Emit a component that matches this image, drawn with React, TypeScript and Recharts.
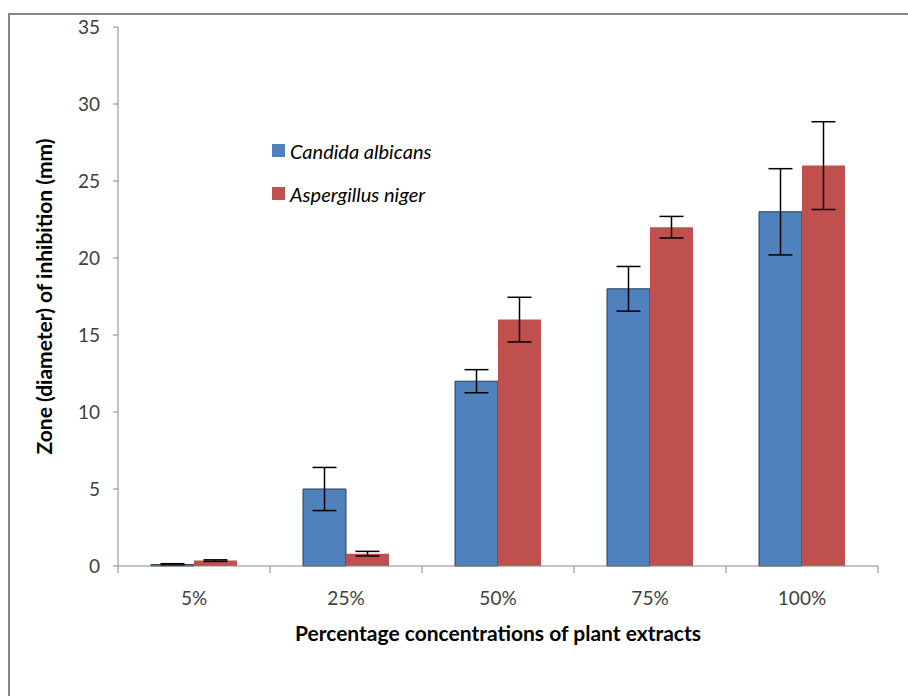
import React from 'react';
import {
  BarChart,
  Bar,
  XAxis,
  YAxis,
  ErrorBar,
} from 'recharts';

// --- data ---
const categories = ['5%', '25%', '50%', '75%', '100%'];
const candida = [0.1, 5, 12, 18, 23];
const candidaErr = [0.05, 1.4, 0.75, 1.45, 2.8];
const aspergillus = [0.35, 0.8, 16, 22, 26];
const aspergillusErr = [0.05, 0.15, 1.45, 0.7, 2.85];
const yTicks = [0, 5, 10, 15, 20, 25, 30, 35];
const seriesNames = ['Candida albicans', 'Aspergillus niger'];

const data = categories.map((c, i) => ({
  name: c,
  candida: candida[i],
  candidaErr: candidaErr[i],
  aspergillus: aspergillus[i],
  aspergillusErr: aspergillusErr[i],
}));

const FONT = 'Lato, "Open Sans", sans-serif';
const BLUE = '#4F81BD';
const RED = '#C0504D';
const AXIS = '#868686';

const W = 908;
const H = 696;
const xAxisHeight = 30;
const margin = { top: 27, right: 30, bottom: 130 - xAxisHeight, left: 58 };
const yAxisWidth = 60;
const band = (W - margin.left - yAxisWidth - margin.right) / categories.length;

// x tick: label at centre, tick marks at the category boundaries
const XTick = (props: any) => {
  const { x, y, payload, index } = props;
  const half = band / 2;
  return (
    <g>
      <line x1={x - half} y1={y} x2={x - half} y2={y + 7} stroke={AXIS} strokeWidth={1} />
      {index === categories.length - 1 && (
        <line x1={x + half} y1={y} x2={x + half} y2={y + 7} stroke={AXIS} strokeWidth={1} />
      )}
      <text x={x} y={y + 39} textAnchor="middle" fill="#404040" fontSize={19} fontFamily={FONT}>
        {payload.value}
      </text>
    </g>
  );
};

const LegendBox = () => (
  <div
    style={{
      position: 'absolute',
      left: 272,
      top: 129,
      fontFamily: FONT,
      fontSize: 20,
      fontStyle: 'italic',
      color: '#000',
    }}
  >
    {seriesNames.map((label, i) => (
      <div key={i} style={{ display: 'flex', alignItems: 'center', height: 43 }}>
        <span style={{ width: 13, height: 13, background: i === 0 ? BLUE : RED, marginRight: 5, display: 'inline-block' }} />
        <span>{label}</span>
      </div>
    ))}
  </div>
);

export default function App() {
  return (
    <div style={{ position: 'absolute', left: 0, top: 0, width: W, height: H, background: '#fff', overflow: 'hidden' }}>
      <div
        style={{
          position: 'absolute',
          left: 8,
          top: 13,
          width: W,
          height: H,
          border: '2px solid #868686',
          boxSizing: 'border-box',
        }}
      />
      <BarChart
        width={W}
        height={H}
        data={data}
        margin={margin}
        barGap={0}
        barSize={43}
        style={{ position: 'absolute', left: 0, top: 0 }}
      >
        <XAxis
          dataKey="name"
          height={xAxisHeight}
          axisLine={{ stroke: AXIS }}
          tickLine={false}
          tickSize={0}
          tickMargin={0}
          tick={<XTick />}
          interval={0}
          label={{
            value: 'Percentage concentrations of plant extracts',
            position: 'insideBottom',
            offset: -45,
            fill: '#000',
            fontSize: 21,
            fontWeight: 'bold',
            fontFamily: FONT,
          }}
        />
        <YAxis
          width={yAxisWidth}
          domain={[0, 35]}
          ticks={yTicks}
          interval={0}
          axisLine={{ stroke: AXIS }}
          tickLine={{ stroke: AXIS }}
          tickSize={5}
          tickMargin={13}
          tick={{ fill: '#404040', fontSize: 19, fontFamily: FONT }}
          label={{
            value: 'Zone (diameter) of inhibition (mm)',
            angle: -90,
            position: 'insideLeft',
            offset: -13,
            style: { textAnchor: 'middle' },
            fill: '#000',
            fontSize: 21,
            fontWeight: 'bold',
            fontFamily: FONT,
          }}
        />
        <Bar dataKey="candida" name={seriesNames[0]} fill={BLUE} stroke="#25405f" strokeWidth={1} isAnimationActive={false}>
          <ErrorBar dataKey="candidaErr" width={12} stroke="#000" strokeWidth={1.5} direction="y" />
        </Bar>
        <Bar dataKey="aspergillus" name={seriesNames[1]} fill={RED} isAnimationActive={false}>
          <ErrorBar dataKey="aspergillusErr" width={12} stroke="#000" strokeWidth={1.5} direction="y" />
        </Bar>
      </BarChart>
      <LegendBox />
    </div>
  );
}
